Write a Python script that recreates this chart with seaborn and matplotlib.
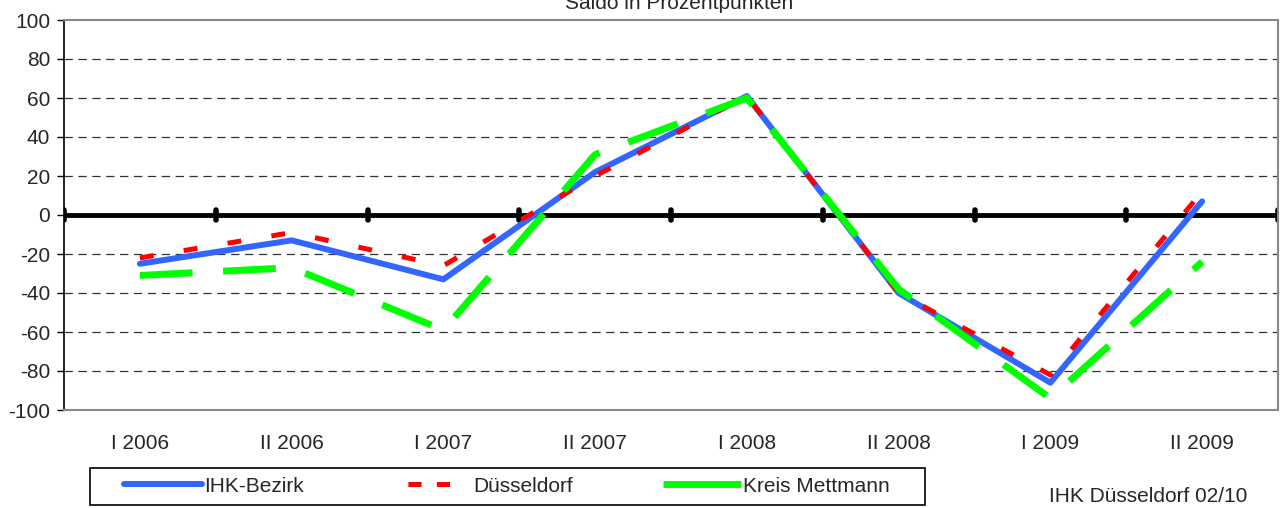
import seaborn as sns
import matplotlib.pyplot as plt
import pandas as pd

# data
periods = ["I 2006", "II 2006", "I 2007", "II 2007", "I 2008", "II 2008", "I 2009", "II 2009"]
ihk_bezirk = [-25, -13, -33, 22, 61, -40, -86, 7]
duesseldorf = [-22, -9, -26, 20, 61, -40, -82, 12]
kreis_mettmann = [-31, -27, -59, 31, 60, -38, -94, -24]
series_names = ["IHK-Bezirk", "Düsseldorf", "Kreis Mettmann"]
y_ticks = list(range(-100, 101, 20))

df = pd.DataFrame({"Periode": periods * 3,
                   "Saldo": ihk_bezirk + duesseldorf + kreis_mettmann,
                   "Region": [n for n in series_names for _ in periods]})

sns.set_style("white")
plt.rcParams['font.family'] = ['Liberation Sans', 'DejaVu Sans']
plt.rcParams['lines.scale_dashes'] = False
plt.rcParams['axes.unicode_minus'] = False

fig = plt.figure(figsize=(12.85, 5.08), dpi=100)
ax = fig.add_axes([64/1285, 1 - 410/508, (1278 - 64)/1285, 390/508])

colors = {"IHK-Bezirk": "#3366ff", "Düsseldorf": "#ff0000", "Kreis Mettmann": "#00ff00"}
sns.lineplot(data=df, x="Periode", y="Saldo", hue="Region", palette=colors,
             sort=False, ax=ax, legend=False)

lines = ax.get_lines()
# blue solid
lines[0].set_linewidth(4.3)
lines[0].set_solid_capstyle("round")
lines[0].set_solid_joinstyle("round")
lines[0].set_zorder(3)
# red short dashes
lines[1].set_linewidth(3.6)
lines[1].set_dashes([10, 22])
lines[1].set_dash_capstyle("butt")
lines[1].set_zorder(4)
# green long dashes
lines[2].set_linewidth(5)
lines[2].set_dashes([38, 22])
lines[2].set_dash_capstyle("butt")
lines[2].set_zorder(5)

ax.set_xlim(-0.5, len(periods) - 0.5)
ax.set_ylim(-100, 100)
ax.set_yticks(y_ticks)
ax.set_xlabel("")
ax.set_ylabel("")

# dashed grid
for v in y_ticks[1:-1]:
    if v != 0:
        ax.axhline(v, color="#333333", lw=0.9, ls=(0, (6, 4)), zorder=1)

# zero line with category boundary ticks
ax.axhline(0, color="black", lw=3.5, zorder=2)
bounds = [i - 0.5 for i in range(len(periods) + 1)]
ax.vlines(bounds, -2.5, 2.5, color="black", lw=4, capstyle="round", zorder=2)

for side in ["top", "right", "bottom"]:
    ax.spines[side].set_color("#888888")
    ax.spines[side].set_linewidth(1.5)
ax.spines["left"].set_color("black")
ax.spines["left"].set_linewidth(1.2)

ax.tick_params(axis="x", length=0, labelsize=15, pad=17)
ax.tick_params(axis="y", left=True, length=5, width=1, color="black",
               labelsize=15, pad=5)

fig.text(679/1285, 1 - 9/508, "Saldo in Prozentpunkten", ha="center",
         va="baseline", fontsize=15)
fig.text(1247/1285, 1 - 497/508, "IHK Düsseldorf 02/10", ha="right",
         va="center", fontsize=15)

# legend box drawn separately so the entries can sit with their own padding
box = plt.Rectangle((90/1285, 1 - 505/508), 835/1285, 37/508, transform=fig.transFigure,
                    facecolor="white", edgecolor="black", lw=1.2)
fig.patches.append(box)

h_blue = plt.Line2D([], [], color=colors["IHK-Bezirk"], lw=4.3, solid_capstyle="round")
h_red = plt.Line2D([], [], color=colors["Düsseldorf"], lw=3.6, dash_capstyle="butt",
                   linestyle=(120, (9.5, 11, 9.5, 100)))
h_green = plt.Line2D([], [], color=colors["Kreis Mettmann"], lw=5, dash_capstyle="butt")
h_green.set_dashes([57, 3.5])
leg = fig.legend([h_blue, h_red, h_green], series_names, ncol=3, loc="center left",
                 bbox_to_anchor=(124/1285, 1 - 486/508), fontsize=15, frameon=False,
                 handlelength=3.75, handletextpad=0.1, columnspacing=4.3,
                 borderpad=0, borderaxespad=0)

plt.savefig("out.png", dpi=100)
